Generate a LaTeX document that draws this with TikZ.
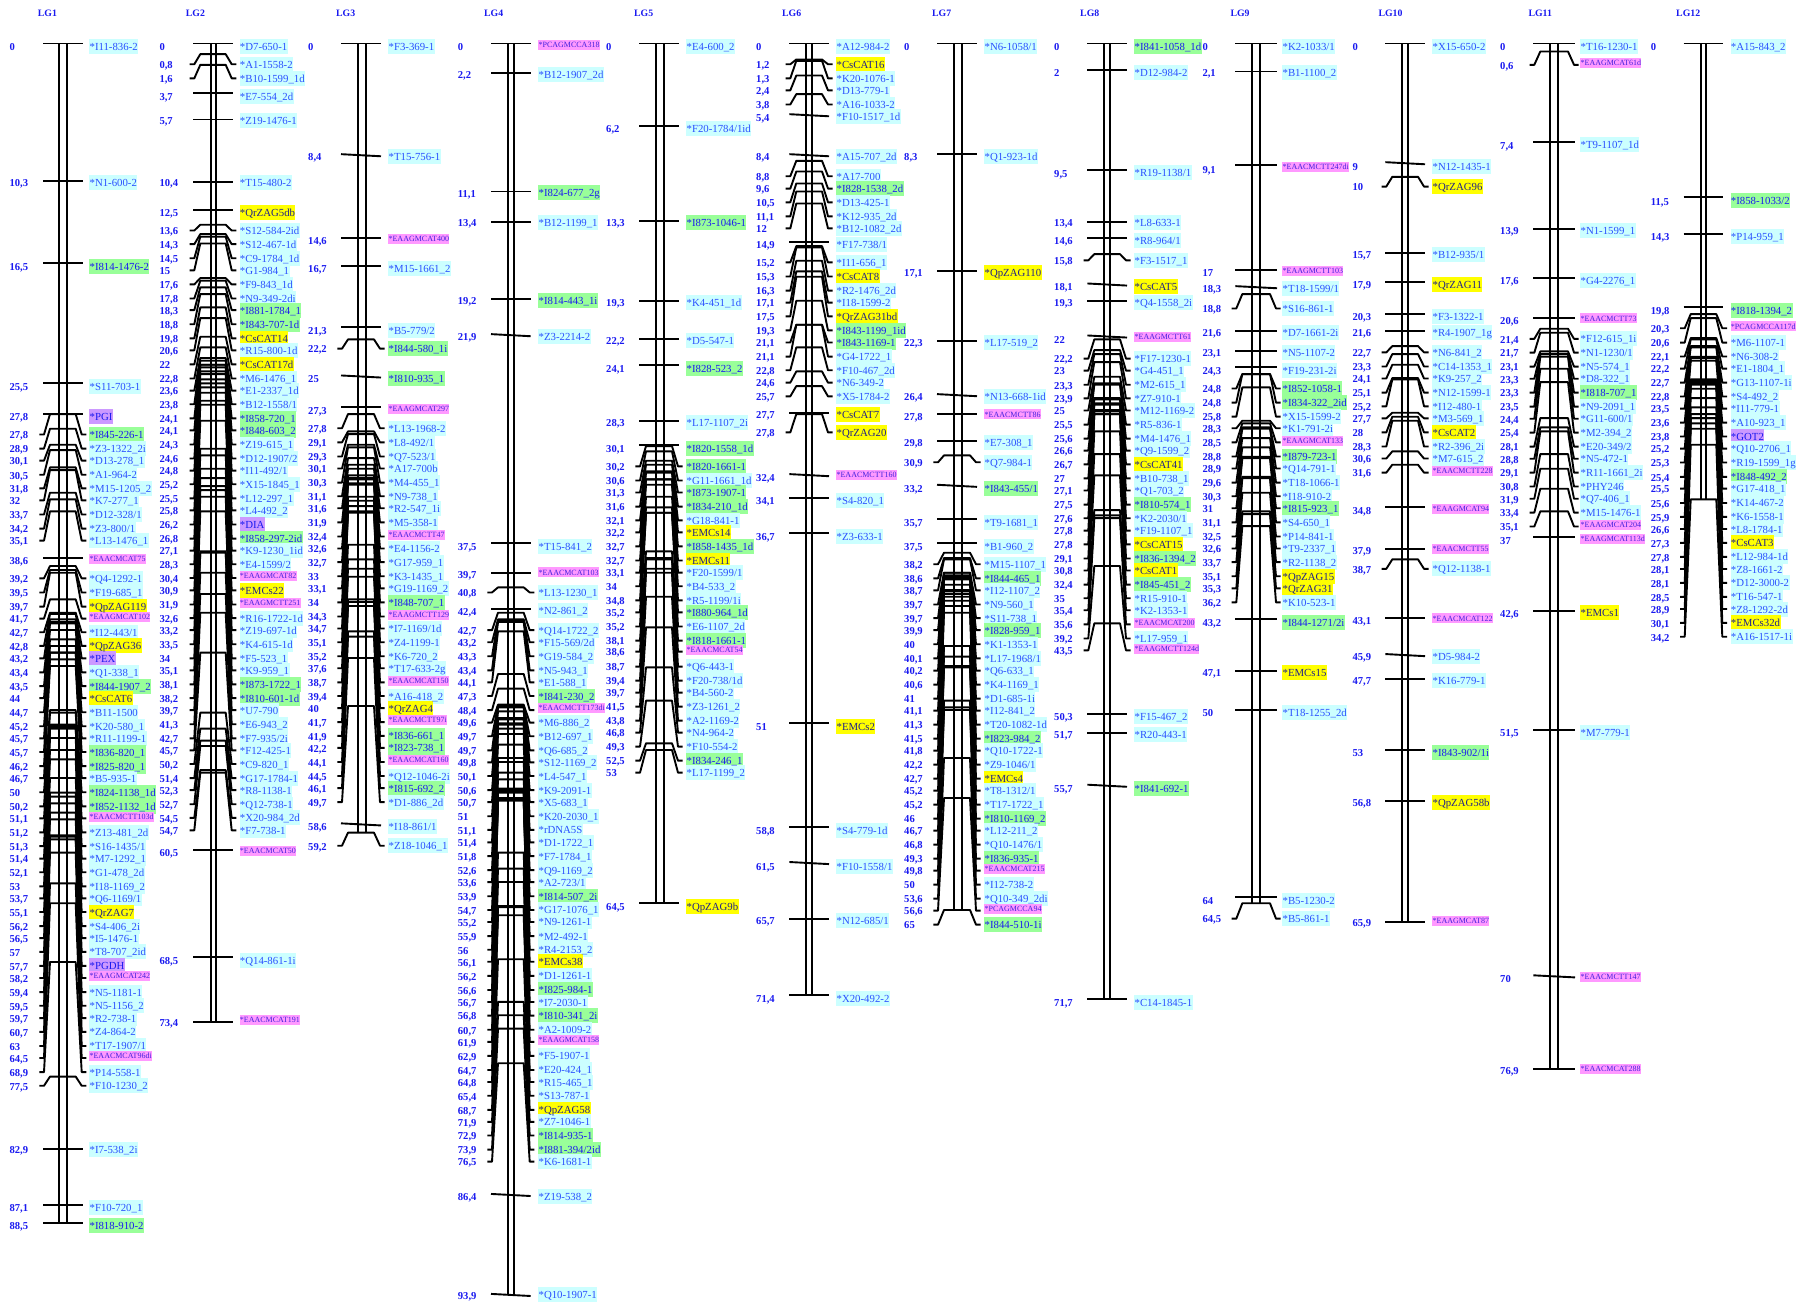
\documentclass[tikz,border=0pt]{standalone}
\usepackage{fontspec}
\setmainfont{Liberation Serif}
\definecolor{colc}{HTML}{CCFFFF}
\definecolor{colg}{HTML}{99FF99}
\definecolor{coly}{HTML}{FFFF00}
\definecolor{colm}{HTML}{FF99FF}
\definecolor{colp}{HTML}{CC99FF}
\definecolor{txtb}{HTML}{1A1AF0}
\definecolor{txtc}{HTML}{2A50FF}
\definecolor{txty}{HTML}{222288}
\definecolor{txtm}{HTML}{4422DD}
\newcommand\lblfont{\fontsize{10.8}{12}\selectfont}
\newcommand\smlfont{\fontsize{8}{9}\selectfont}
\newcommand\valfont{\fontsize{10.6}{12}\selectfont\bfseries}
\newcommand\ttlfont{\fontsize{9.8}{11}\selectfont\bfseries}
\tikzset{
  mapline/.style={black,line width=1.9pt,line join=round},
  lab/.style={anchor=west,inner xsep=.4pt,inner ysep=0pt,text height=11.5pt,text depth=3.5pt,yshift=0pt,font=\lblfont},
  mkc/.style={lab,fill=colc,text=txtc},
  mkg/.style={lab,fill=colg,text=txtb},
  mky/.style={lab,fill=coly,text=txty},
  mkp/.style={lab,fill=colp,text=txtb},
  mkm/.style={anchor=west,inner xsep=.4pt,inner ysep=0pt,text height=7.6pt,text depth=2.4pt,yshift=1.8pt,font=\smlfont,fill=colm,text=txtm},
  valtxt/.style={anchor=base west,inner sep=0pt,font=\valfont,text=txtb},
  ttl/.style={anchor=base west,inner sep=0pt,font=\ttlfont,text=txtb}
}
\newcounter{mkn}
\newcounter{lgn}
\newif\ifbgpass
\def\getv#1,#2,#3\relax{\def\vi{#1}\def\vf{#2}}
\newcommand\crop[2]{\def\co{#1}\def\cs{#2}}
% title, title x, value x, tick left, tick right, bar 1, bar 2, label x, last value
\newcommand\LG[9]{%
  \stepcounter{lgn}\edef\g{\arabic{lgn}}%
  \def\vx{#3}\def\tL{#4}\def\tR{#5}\def\lx{#8}%
  \ifbgpass\else
  \pgfmathsetmacro\xoL{#4-3.7}\pgfmathsetmacro\xsL{#4+1}\pgfmathsetmacro\xiL{#4+7}%
  \pgfmathsetmacro\xiR{#5-7}\pgfmathsetmacro\xsR{#5-1}\pgfmathsetmacro\xoR{#5+3.7}%
  \pgfmathsetmacro\yend{43.5+13.33*#9}%
  \node[ttl] (title\g) at (#2,16) {#1};
  \coordinate (topa\g) at (#6,43.5);\coordinate (enda\g) at (#6,\yend);
  \coordinate (topb\g) at (#7,43.5);\coordinate (endb\g) at (#7,\yend);
  \draw[mapline] (topa\g) -- (enda\g);
  \draw[mapline] (topb\g) -- (endb\g);
  \fi
}
\newcommand\mkrow[5]{%
  \stepcounter{mkn}\edef\n{\arabic{mkn}}%
  \pgfmathsetmacro\yv{\co+#5/\cs}%
  \ifbgpass
    \node[mk#4] (b\n) at (\lx,\yv) {\phantom{*#3}};
  \else
  \getv#2,0,\relax
  \pgfmathsetmacro\ychr{43.5+13.33*\vi.\vf}%
  \pgfmathsetmacro\dd{\yv-\ychr}%
  \ifdim\dd pt>4.6pt
    \coordinate (L\n) at (\xoL,\yv);\coordinate (R\n) at (\xoR,\yv);
    \draw[mapline] (L\n) -- (\xsL,\yv) -- (\xiL,\ychr) -- (\xiR,\ychr) -- (\xsR,\yv) -- (R\n);
  \else
    \ifnum#1=1
      \pgfmathsetmacro\ya{\ychr-1.3}\pgfmathsetmacro\yb{\ychr+.8}%
    \else
      \let\ya\ychr\let\yb\ychr
    \fi
    \coordinate (L\n) at (\tL,\ya);\coordinate (R\n) at (\tR,\yb);
    \draw[mapline] (L\n) -- (R\n);
  \fi
  \pgfmathsetmacro\yb{\yv+4.3}%
  \node[valtxt] (v\n) at (\vx,\yb) {#2};
  \node[mk#4,fill=none] (m\n) at (\lx,\yv) {*#3};
  \fi
}
\newcommand\M[4]{\mkrow{0}{#1}{#2}{#3}{#4}}
\newcommand\Z[4]{\mkrow{1}{#1}{#2}{#3}{#4}}
\catcode`\_=12
\newcommand\alldata{%
% LG1
\LG{LG1}{37.7}{9.3}{43}{82.7}{59.3}{67.3}{89}{88.5}
\crop{0}{2.412}
\M{0}{I11-836-2}c{112}\M{10,3}{N1-600-2}c{440}\M{16,5}{I814-1476-2}g{642}\M{25,5}{S11-703-1}c{932}
\M{27,8}{PGI}p{1005}\M{27,8}{I845-226-1}g{1048}\M{28,9}{Z3-1322_2i}c{1082}\M{30,1}{D13-278_1}c{1111}
\M{30,5}{A1-964-2}c{1145}\M{31,8}{M15-1205_2}c{1178}\M{32}{K7-277_1}c{1207}\M{33,7}{D12-328/1}c{1241}
\M{34,2}{Z3-800/1}c{1275}\M{35,1}{L13-1476_1}c{1304}\M{38,6}{EAACMCAT75}m{1352}\M{39,2}{Q4-1292-1}c{1395}
\M{39,5}{F19-685_1}c{1429}\M{39,7}{QpZAG119}y{1463}\M{41,7}{EAAGMCAT102}m{1492}\M{42,7}{I12-443/1}c{1525}
\M{42,8}{QpZAG36}y{1558}
\crop{650}{2.412}
\M{43,2}{PEX}p{20}\M{43,4}{Q1-338_1}c{54}\M{43,5}{I844-1907_2}g{87}\M{44}{CsCAT6}y{116}
\M{44,7}{B11-1500}c{150}\M{45,2}{K20-580_1}c{184}\M{45,7}{R11-1199-1}c{213}\M{45,7}{I836-820_1}g{246}
\M{46,2}{I825-820_1}g{280}\M{46,7}{B5-935-1}c{309}\M{50}{I824-1138_1d}g{343}\M{50,2}{I852-1132_1d}g{377}
\M{51,1}{EAACMCTT103d}m{406}\M{51,2}{Z13-481_2d}c{440}\M{51,3}{S16-1435/1}c{473}\M{51,4}{M7-1292_1}c{503}
\M{52,1}{G1-478_2d}c{536}\M{53}{I18-1169_2}c{570}\M{53,7}{Q6-1169/1}c{599}\M{55,1}{QrZAG7}y{632}
\M{56,2}{S4-406_2i}c{666}\M{56,5}{I5-1476-1}c{695}\M{57}{T8-707_2id}c{728}\M{57,7}{PGDH}p{762}
\M{58,2}{EAAGMCAT242}m{791}\M{59,4}{N5-1181-1}c{825}\M{59,5}{N5-1156_2}c{858}\M{59,7}{R2-738-1}c{888}
\M{60,7}{Z4-864-2}c{921}\M{63}{T17-1907/1}c{955}\M{64,5}{EAACMCAT96di}m{984}\M{68,9}{P14-558-1}c{1018}
\M{77,5}{F10-1230_2}c{1051}\M{82,9}{I7-538_2i}c{1205}\M{87,1}{F10-720_1}c{1345}\M{88,5}{I818-910-2}g{1388}
% LG2
\LG{LG2}{185.7}{159.3}{193.3}{232.7}{210.7}{215.7}{239.3}{73.4}
\crop{0}{2.412}
\M{0}{D7-650-1}c{112}\M{0,8}{A1-1558-2}c{155}\M{1,6}{B10-1599_1d}c{189}\M{3,7}{E7-554_2d}c{232}
\M{5,7}{Z19-1476-1}c{290}\M{10,4}{T15-480-2}c{440}\M{12,5}{QrZAG5db}y{512}\M{13,6}{S12-584-2id}c{556}
\M{14,3}{S12-467-1d}c{589}\M{14,5}{C9-1784_1d}c{623}\M{15}{G1-984_1}c{652}\M{17,6}{F9-843_1d}c{686}
\M{17,8}{N9-349-2di}c{720}\M{18,3}{I881-1784_1}g{748}\M{18,8}{I843-707-1d}g{782}\M{19,8}{CsCAT14}y{816}
\M{20,6}{R15-800-1d}c{845}\M{22}{CsCAT17d}y{879}\M{22,8}{M6-1476_1}c{913}\M{23,6}{E1-2337_1d}c{942}
\M{23,8}{B12-1558/1}c{975}\M{24,1}{I858-720_1}g{1009}\M{24,1}{I848-603_2}g{1038}\M{24,3}{Z19-615_1}c{1072}
\M{24,6}{D12-1907/2}c{1106}\M{24,8}{I11-492/1}c{1135}\M{25,2}{X15-1845_1}c{1168}\M{25,5}{L12-297_1}c{1202}
\M{25,8}{L4-492_2}c{1231}\M{26,2}{DIA}p{1265}\M{26,8}{I858-297-2id}g{1299}\M{27,1}{K9-1230_1id}c{1328}
\M{28,3}{E4-1599/2}c{1361}\M{30,4}{EAAGMCAT82}m{1394}\M{30,9}{EMCs22}y{1424}\M{31,9}{EAAGMCTT251}m{1458}
\M{32,6}{R16-1722-1d}c{1491}\M{33,2}{Z19-697-1d}c{1520}\M{33,5}{K4-615-1d}c{1554}
\crop{650}{2.412}
\M{34}{F5-523_1}c{20}\M{35,1}{K9-959_1}c{49}\M{38,1}{I873-1722_1}g{83}\M{38,2}{I810-601-1d}g{116}
\M{39,7}{U7-790}c{145}\M{41,3}{E6-943_2}c{179}\M{42,7}{F7-935/2i}c{213}\M{45,7}{F12-425-1}c{242}
\M{50,2}{C9-820_1}c{275}\M{51,4}{G17-1784-1}c{309}\M{52,3}{R8-1138-1}c{338}\M{52,7}{Q12-738-1}c{372}
\M{54,5}{X20-984_2d}c{405}\M{54,7}{F7-738-1}c{435}\M{60,5}{EAACMCAT50}m{488}\M{68,5}{Q14-861-1i}c{748}
\M{73,4}{EAACMCAT191}m{897}
% LG3
\LG{LG3}{336}{308}{341}{381}{358}{365.7}{388}{59.2}
\crop{0}{2.412}
\M{0}{F3-369-1}c{112}\Z{8,4}{T15-756-1}c{377}\M{14,6}{EAAGMCAT400}m{580}\M{16,7}{M15-1661_2}c{647}
\M{21,3}{B5-779/2}c{797}\M{22,2}{I844-580_1i}g{841}\Z{25}{I810-935_1}g{913}\M{27,3}{EAAGMCAT297}m{990}
\M{27,8}{L13-1968-2}c{1033}\M{29,1}{L8-492/1}c{1067}\M{29,3}{Q7-523/1}c{1101}\M{30,1}{A17-700b}c{1130}
\M{30,3}{M4-455_1}c{1164}\M{31,1}{N9-738_1}c{1197}\M{31,6}{R2-547_1i}c{1226}\M{31,9}{M5-358-1}c{1260}
\M{32,4}{EAACMCTT47}m{1294}\M{32,6}{E4-1156-2}c{1323}\M{32,7}{G17-959_1}c{1356}\M{33}{K3-1435_1}c{1390}
\M{33,1}{G19-1169_2}c{1419}\M{34}{I848-707_1}g{1453}\M{34,3}{EAAGMCTT129}m{1487}\M{34,7}{I7-1169/1d}c{1516}
\M{35,1}{Z4-1199-1}c{1549}
\crop{650}{2.412}
\M{35,2}{K6-720_2}c{15}\M{37,6}{T17-633-2g}c{44}\M{38,7}{EAACMCAT150}m{78}\M{39,4}{A16-418_2}c{111}
\M{40}{QrZAG4}y{140}\M{41,7}{EAACMCTT97i}m{174}\M{41,9}{I836-661_1}g{207}\M{42,2}{I823-738_1}g{236}
\M{44,1}{EAACMCAT160}m{270}\M{44,5}{Q12-1046-2i}c{304}\M{46,1}{I815-692_2}g{333}\M{49,7}{D1-886_2d}c{367}
\Z{58,6}{I18-861/1}c{426}\M{59,2}{Z18-1046_1}c{472}
% LG4
\LG{LG4}{484}{457.7}{491}{530.7}{508}{513.7}{538}{93.9}
\crop{0}{2.412}
\M{0}{PCAGMCCA318}m{112}\M{2,2}{B12-1907_2d}c{180}\M{11,1}{I824-677_2g}g{465}\M{13,4}{B12-1199_1}c{537}
\M{19,2}{I814-443_1i}g{725}\Z{21,9}{Z3-2214-2}c{812}\M{37,5}{T15-841_2}c{1318}\M{39,7}{EAACMCAT103}m{1385}
\M{40,8}{L13-1230_1}c{1429}\M{42,4}{N2-861_2}c{1473}\M{42,7}{Q14-1722_2}c{1520}\M{43,2}{F15-569/2d}c{1549}
\crop{650}{2.412}
\M{43,3}{G19-584_2}c{15}\M{43,4}{N5-943_1}c{49}\M{44,1}{E1-588_1}c{78}\M{47,3}{I841-230_2}g{111}
\M{48,4}{EAACMCTT173di}m{145}\M{49,6}{M6-886_2}c{175}\M{49,7}{B12-697_1}c{208}\M{49,7}{Q6-685_2}c{242}
\M{49,8}{S12-1169_2}c{271}\M{50,1}{L4-547_1}c{304}\M{50,6}{K9-2091-1}c{338}\M{50,7}{X5-683_1}c{367}
\M{51}{K20-2030_1}c{401}\M{51,1}{rDNA5S}c{434}\M{51,4}{D1-1722_1}c{464}\M{51,8}{F7-1784_1}c{497}
\M{52,6}{Q9-1169_2}c{531}\M{53,6}{A2-723/1}c{560}\M{53,9}{I814-507_2i}g{594}\M{54,7}{G17-1076_1}c{627}
\M{55,2}{N9-1261-1}c{656}\M{55,9}{M2-492-1}c{690}\M{56}{R4-2153_2}c{723}\M{56,1}{EMCs38}y{752}
\M{56,2}{D1-1261-1}c{786}\M{56,6}{I825-984-1}g{820}\M{56,7}{I7-2030-1}c{849}\M{56,8}{I810-341_2i}g{882}
\M{60,7}{A2-1009-2}c{916}\M{61,9}{EAAGMCAT158}m{945}\M{62,9}{F5-1907-1}c{979}\M{64,7}{E20-424_1}c{1013}
\M{64,8}{R15-465_1}c{1042}\M{65,4}{S13-787-1}c{1075}\M{68,7}{QpZAG58}y{1109}\M{71,9}{Z7-1046-1}c{1138}
\M{72,9}{I814-935-1}g{1171}\M{73,9}{I881-394/2id}g{1205}\M{76,5}{K6-1681-1}c{1234}\Z{86,4}{Z19-538_2}c{1317}
\Z{93,9}{Q10-1907-1}c{1555}
% LG5
\LG{LG5}{634}{606}{639}{679}{656}{663.7}{686}{64.5}
\crop{0}{2.412}
\M{0}{E4-600_2}c{112}\M{6,2}{F20-1784/1id}c{310}\M{13,3}{I873-1046-1}g{537}\M{19,3}{K4-451_1d}c{730}
\M{22,2}{D5-547-1}c{821}\M{24,1}{I828-523_2}g{889}\M{28,3}{L17-1107_2i}c{1019}\M{30,1}{I820-1558_1d}g{1082}
\M{30,2}{I820-1661-1}g{1125}\M{30,6}{G11-1661_1d}c{1159}\M{31,3}{I873-1907-1}g{1188}\M{31,6}{I834-210_1d}g{1222}
\M{32,1}{G18-841-1}c{1255}\M{32,2}{EMCs14}y{1284}\M{32,7}{I858-1435_1d}g{1318}\M{32,7}{EMCs11}y{1352}
\M{33,1}{F20-1599/1}c{1381}\M{34}{B4-533_2}c{1414}\M{34,8}{R5-1199/1i}c{1448}\M{35,2}{I880-964_1d}g{1477}
\M{35,2}{E6-1107_2d}c{1511}\M{38,1}{I818-1661-1}g{1545}
\crop{650}{3}
\M{38,6}{EAACMCAT54}m{5}\M{38,7}{Q6-443-1}c{50}\M{39,4}{F20-738/1d}c{92}\M{39,7}{B4-560-2}c{128}
\M{41,5}{Z3-1261_2}c{170}\M{43,8}{A2-1169-2}c{212}\M{46,8}{N4-964-2}c{248}\M{49,3}{F10-554-2}c{290}
\M{52,5}{I834-246_1}g{332}\M{53}{L17-1199_2}c{368}\M{64,5}{QpZAG9b}y{770}
% LG6
\LG{LG6}{782}{756}{789.3}{829}{806.3}{811.7}{836}{71.4}
\crop{0}{2.412}
\M{0}{A12-984-2}c{112}\M{1,2}{CsCAT16}y{155}\M{1,3}{K20-1076-1}c{189}\M{2,4}{D13-779-1}c{218}
\M{3,8}{A16-1033-2}c{252}\Z{5,4}{F10-1517_1d}c{282}\Z{8,4}{A15-707_2d}c{377}\M{8,8}{A17-700}c{425}
\M{9,6}{I828-1538_2d}g{455}\M{10,5}{D13-425-1}c{488}\M{11,1}{K12-935_2d}c{522}\M{12}{B12-1082_2d}c{551}
\M{14,9}{F17-738/1}c{590}\M{15,2}{I11-656_1}c{633}\M{15,3}{CsCAT8}y{667}\M{16,3}{R2-1476_2d}c{701}
\M{17,1}{I18-1599-2}c{730}\M{17,5}{QrZAG31bd}y{763}\M{19,3}{I843-1199_1id}g{797}\M{21,1}{I843-1169-1}g{826}
\M{21,1}{G4-1722_1}c{860}\M{22,8}{F10-467_2d}c{893}\M{24,6}{N6-349-2}c{923}\M{25,7}{X5-1784-2}c{956}
\M{27,7}{CsCAT7}y{1000}\M{27,8}{QrZAG20}y{1043}\Z{32,4}{EAACMCTT160}m{1150}\M{34,1}{S4-820_1}c{1207}
\M{36,7}{Z3-633-1}c{1294}
\crop{650}{3}
\M{51}{EMCs2}y{230}\M{58,8}{S4-779-1d}c{541}\Z{61,5}{F10-1558/1}c{650}\M{65,7}{N12-685/1}c{811}
\M{71,4}{X20-492-2}c{1045}
% LG7
\LG{LG7}{932}{904}{937}{977}{954}{961.7}{984}{65}
\crop{0}{2.412}
\M{0}{N6-1058/1}c{112}\M{8,3}{Q1-923-1d}c{377}\M{17,1}{QpZAG110}y{657}\M{22,3}{L17-519_2}c{826}
\Z{26,4}{N13-668-1id}c{956}\M{27,8}{EAACMCTT86}m{1004}\M{29,8}{E7-308_1}c{1067}\M{30,9}{Q7-984-1}c{1115}
\Z{33,2}{I843-455/1}g{1178}\M{35,7}{T9-1681_1}c{1260}\M{37,5}{B1-960_2}c{1318}\M{38,2}{M15-1107_1}c{1361}
\M{38,6}{I844-465_1}g{1395}\M{38,7}{I12-1107_2}c{1424}\M{39,7}{N9-560_1}c{1458}\M{39,7}{S11-738_1}c{1491}
\M{39,9}{I828-959_1}g{1520}\M{40}{K1-1353-1}c{1554}
\crop{600}{3}
\M{40,1}{L17-1968/1}c{175}\M{40,2}{Q6-633_1}c{212}\M{40,6}{K4-1169_1}c{254}\M{41}{D1-685-1i}c{296}
\M{41,1}{I12-841_2}c{332}\M{41,3}{T20-1082-1d}c{374}\M{41,5}{I823-984_2}g{416}\M{41,8}{Q10-1722-1}c{452}
\M{42,2}{Z9-1046/1}c{494}\M{42,7}{EMCs4}y{536}\M{45,2}{T8-1312/1}c{572}\M{45,2}{T17-1722_1}c{614}
\M{46}{I810-1169_2}g{656}\M{46,7}{L12-211_2}c{692}\M{46,8}{Q10-1476/1}c{734}\M{49,3}{I836-935-1}g{776}
\M{49,8}{EAACMCAT215}m{812}\M{50}{I12-738-2}c{854}\M{53,6}{Q10-349_2di}c{896}\M{56,6}{PCAGMCCA94}m{932}
\M{65}{I844-510-1i}g{974}
% LG8
\LG{LG8}{1080}{1054}{1087.3}{1127}{1104.3}{1110}{1134}{71.7}
\crop{0}{2.412}
\M{0}{I841-1058_1d}g{112}\M{2}{D12-984-2}c{175}\M{9,5}{R19-1138/1}c{417}\M{13,4}{L8-633-1}c{537}
\M{14,6}{R8-964/1}c{580}\M{15,8}{F3-1517_1}c{628}\Z{18,1}{CsCAT5}y{691}\M{19,3}{Q4-1558_2i}c{730}
\Z{22}{EAAGMCTT61}m{817}\M{22,2}{F17-1230-1}c{865}\M{23}{G4-451_1}c{894}\M{23,3}{M2-615_1}c{928}
\M{23,9}{Z7-910-1}c{961}\M{25}{M12-1169-2}c{990}\M{25,5}{R5-836-1}c{1024}\M{25,6}{M4-1476_1}c{1058}
\M{26,6}{Q9-1599_2}c{1087}\M{26,7}{CsCAT41}y{1120}\M{27}{B10-738_1}c{1154}\M{27,1}{Q1-703_2}c{1183}
\M{27,5}{I810-574_1}g{1217}\M{27,6}{K2-2030/1}c{1250}\M{27,8}{F19-1107_1}c{1280}\M{27,8}{CsCAT15}y{1313}
\M{29,1}{I836-1394_2}g{1347}\M{30,8}{CsCAT1}y{1376}\M{32,4}{I845-451_2}g{1410}\M{35}{R15-910-1}c{1443}
\M{35,4}{K2-1353-1}c{1472}\M{35,6}{EAACMCAT200}m{1506}\M{39,2}{L17-959_1}c{1540}
\crop{600}{3}
\M{43,5}{EAAGMCTT124d}m{151}\M{50,3}{F15-467_2}c{350}\M{51,7}{R20-443-1}c{404}\Z{55,7}{I841-692-1}g{566}
\M{71,7}{C14-1845-1}c{1208}
% LG9
\LG{LG9}{1230.3}{1202.3}{1235.3}{1277}{1252.3}{1260.3}{1282}{64.5}
\crop{0}{2.412}
\M{0}{K2-1033/1}c{112}\M{2,1}{B1-1100_2}c{175}\M{9,1}{EAACMCTT247di}m{407}\M{17}{EAAGMCTT103}m{657}
\Z{18,3}{T18-1599/1}c{696}\M{18,8}{S16-861-1}c{744}\M{21,6}{D7-1661-2i}c{802}\M{23,1}{N5-1107-2}c{850}
\M{24,3}{F19-231-2i}c{893}\M{24,8}{I852-1058-1}g{937}\M{24,8}{I834-322_2id}g{971}\M{25,8}{X15-1599-2}c{1005}
\M{28,3}{K1-791-2i}c{1033}\M{28,5}{EAAGMCAT133}m{1067}\M{28,8}{I879-723-1}g{1101}\M{28,9}{Q14-791-1}c{1130}
\M{29,6}{T18-1066-1}c{1164}\M{30,3}{I18-910-2}c{1197}\M{31}{I815-923_1}g{1226}\M{31,1}{S4-650_1}c{1260}
\M{32,5}{P14-841-1}c{1294}\M{32,6}{T9-2337_1}c{1323}\M{33,7}{R2-1138_2}c{1356}\M{35,1}{QpZAG15}y{1390}
\M{35,3}{QrZAG31}y{1419}\M{36,2}{K10-523-1}c{1453}\M{43,2}{I844-1271/2i}g{1501}
\crop{600}{3}
\M{47,1}{EMCs15}y{218}\M{50}{T18-1255_2d}c{338}\M{64}{B5-1230-2}c{902}\M{64,5}{B5-861-1}c{956}
% LG10
\LG{LG10}{1378.3}{1352.3}{1385.3}{1425}{1402.3}{1408.3}{1432}{65.9}
\crop{0}{2.412}
\M{0}{X15-650-2}c{112}\Z{9}{N12-1435-1}c{401}\M{10}{QrZAG96}y{450}\M{15,7}{B12-935/1}c{613}
\M{17,9}{QrZAG11}y{686}\M{20,3}{F3-1322-1}c{763}\M{21,6}{R4-1907_1g}c{802}\M{22,7}{N6-841_2}c{850}
\M{23,3}{C14-1353_1}c{884}\M{24,1}{K9-257_2}c{913}\M{25,1}{N12-1599-1}c{947}\M{25,2}{I12-480-1}c{980}
\M{27,7}{M3-569_1}c{1009}\M{28}{CsCAT2}y{1043}\M{28,3}{R2-396_2i}c{1077}\M{30,6}{M7-615_2}c{1106}
\M{31,6}{EAACMCTT228}m{1140}\M{34,8}{EAAGMCAT94}m{1231}\M{37,9}{EAACMCTT55}m{1328}\M{38,7}{Q12-1138-1}c{1372}
\M{43,1}{EAACMCAT122}m{1496}
\crop{600}{3}
\Z{45,9}{D5-984-2}c{170}\M{47,7}{K16-779-1}c{241}\M{53}{I843-902/1i}g{458}\M{56,8}{QpZAG58b}y{607}
\M{65,9}{EAAGMCAT87}m{968}
% LG11
\LG{LG11}{1528.3}{1500}{1533.3}{1575}{1550.3}{1558.3}{1580}{76.9}
\crop{0}{2.376}
\M{0}{T16-1230-1}c{110}\M{0,6}{EAAGMCAT61d}m{154}\M{7,4}{T9-1107_1d}c{344}\M{13,9}{N1-1599_1}c{547}
\M{17,6}{G4-2276_1}c{666}\M{20,6}{EAACMCTT73}m{761}\M{21,4}{F12-615_1i}c{805}\M{21,7}{N1-1230/1}c{838}
\M{23,1}{N5-574_1}c{871}\M{23,3}{D8-322_1}c{900}\M{23,3}{I818-707_1}g{933}\M{23,5}{N9-2091_1}c{966}
\M{24,4}{G11-600/1}c{995}\M{25,4}{M2-394_2}c{1028}\M{28,1}{E20-349/2}c{1061}\M{28,8}{N5-472-1}c{1090}
\M{29,1}{R11-1661_2i}c{1123}\M{30,8}{PHY246}c{1156}\M{31,9}{Q7-406_1}c{1185}\M{33,4}{M15-1476-1}c{1218}
\M{35,1}{EAAGMCAT204}m{1251}\M{37}{EAAGMCAT113d}m{1284}\M{42,6}{EMCs1}y{1456}
\crop{660}{3}
\M{51,5}{M7-779-1}c{218}\Z{70}{EAACMCTT147}m{956}\M{76,9}{EAACMCAT288}m{1232}
% LG12
\LG{LG12}{1676}{1650.7}{1683.7}{1723.3}{1700.7}{1706.3}{1730.3}{34.2}
\crop{0}{2.376}
\M{0}{A15-843_2}c{110}\M{11,5}{I858-1033/2}g{477}\M{14,3}{P14-959_1}c{562}\M{19,8}{I818-1394_2}g{738}
\M{20,3}{PCAGMCCA117d}m{780}\M{20,6}{M6-1107-1}c{814}\M{22,1}{N6-308-2}c{847}\M{22,2}{E1-1804_1}c{876}
\M{22,7}{G13-1107-1i}c{909}\M{22,8}{S4-492_2}c{942}\M{23,5}{I11-779-1}c{971}\M{23,6}{A10-923_1}c{1004}
\M{23,8}{GOT2}p{1037}\M{25,2}{Q10-2706_1}c{1066}\M{25,3}{R19-1599_1g}c{1099}\M{25,4}{I848-492_2}g{1133}
\M{25,5}{G17-418_1}c{1161}\M{25,6}{K14-467-2}c{1195}\M{25,9}{K6-1558-1}c{1228}\M{26,6}{L8-1784-1}c{1257}
\M{27,3}{CsCAT3}y{1290}\M{27,8}{L12-984-1d}c{1323}\M{28,1}{Z8-1661-2}c{1352}\M{28,1}{D12-3000-2}c{1385}
\M{28,5}{T16-547-1}c{1418}\M{28,9}{Z8-1292-2d}c{1447}\M{30,1}{EMCs32d}y{1480}\M{34,2}{A16-1517-1i}c{1513}
}
\begin{document}
\begin{tikzpicture}[x=1pt,y=-1pt]
\useasboundingbox (0,0) rectangle (1798,1301);
\fill[white] (0,0) rectangle (1798,1301);
% first pass: the coloured label backgrounds; second pass: lines and texts
\bgpasstrue
\alldata
\setcounter{mkn}{0}\setcounter{lgn}{0}
\bgpassfalse
\alldata
\end{tikzpicture}
\end{document}
